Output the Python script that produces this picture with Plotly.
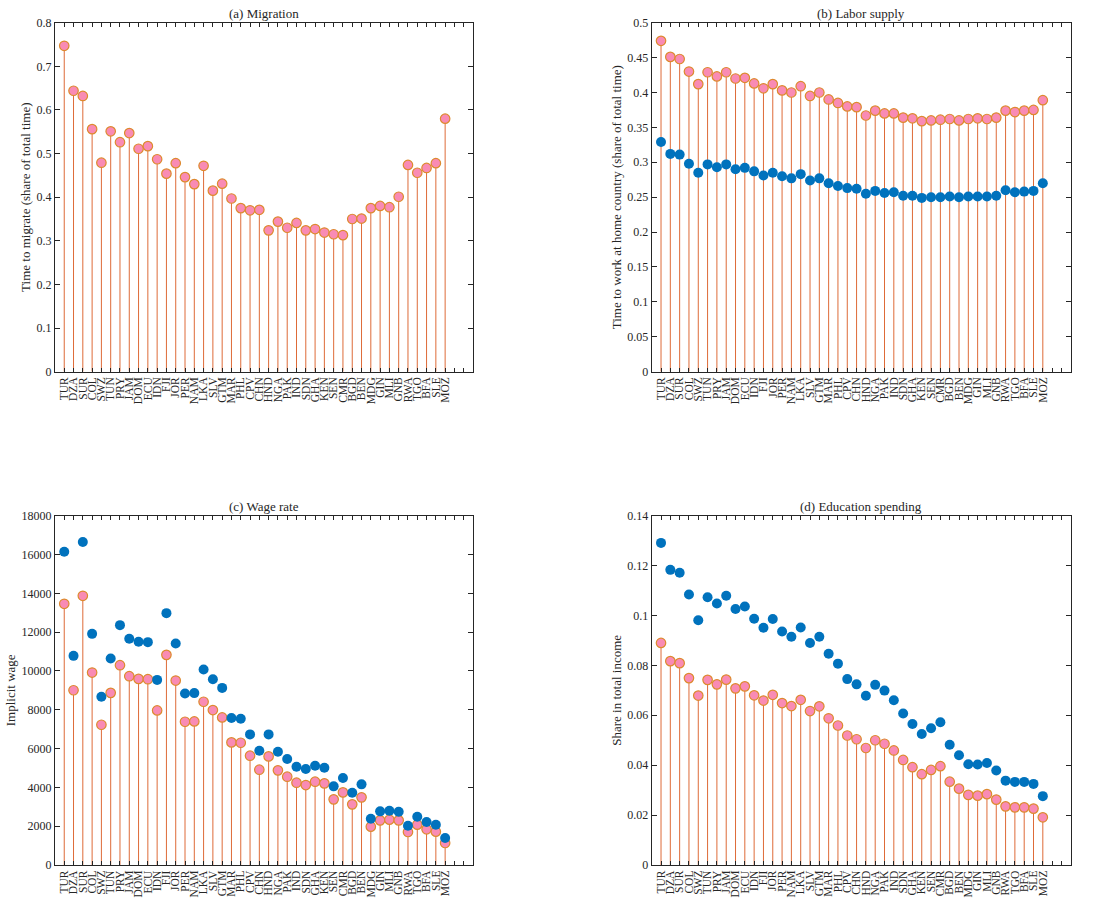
import plotly.graph_objects as go

# Country codes along the x axis (same order in every panel)
countries = ["TUR", "DZA", "SUR", "COL", "SWZ", "TUN", "PRY", "JAM", "DOM", "ECU",
             "IDN", "FJI", "JOR", "PER", "NAM", "LKA", "SLV", "GTM", "MAR", "PHL",
             "CPV", "CHN", "HND", "NGA", "PAK", "IND", "SDN", "GHA", "KEN", "SEN",
             "CMR", "BGD", "BEN", "MDG", "GIN", "MLI", "GNB", "RWA", "TGO", "BFA",
             "SLE", "MOZ"]

# (a) Migration: time to migrate
migration = [0.747, 0.644, 0.632, 0.556, 0.479, 0.551, 0.526, 0.547, 0.511, 0.517,
             0.487, 0.454, 0.478, 0.446, 0.430, 0.472, 0.415, 0.431, 0.397, 0.375,
             0.370, 0.371, 0.324, 0.344, 0.330, 0.341, 0.324, 0.327, 0.319, 0.315,
             0.313, 0.350, 0.351, 0.375, 0.380, 0.377, 0.401, 0.474, 0.456, 0.467,
             0.478, 0.580]

# (b) Labor supply: time to work at home country
labor_stem = [0.474, 0.451, 0.448, 0.430, 0.412, 0.429, 0.423, 0.429, 0.420, 0.421,
              0.413, 0.406, 0.412, 0.403, 0.400, 0.409, 0.395, 0.400, 0.390, 0.385,
              0.380, 0.379, 0.367, 0.374, 0.370, 0.370, 0.364, 0.363, 0.359, 0.360,
              0.361, 0.362, 0.360, 0.362, 0.363, 0.362, 0.364, 0.374, 0.372, 0.374,
              0.375, 0.389]
labor_dot = [0.329, 0.312, 0.311, 0.298, 0.285, 0.297, 0.293, 0.297, 0.290, 0.292,
             0.287, 0.281, 0.285, 0.280, 0.277, 0.283, 0.274, 0.277, 0.270, 0.266,
             0.263, 0.262, 0.255, 0.259, 0.256, 0.257, 0.252, 0.252, 0.249, 0.250,
             0.250, 0.251, 0.250, 0.251, 0.251, 0.251, 0.252, 0.260, 0.257, 0.258,
             0.259, 0.270]

# (c) Wage rate: implicit wage
wage_stem = [13460, 9006, 13873, 9917, 7227, 8870, 10296, 9728, 9590, 9574,
             7966, 10829, 9505, 7382, 7399, 8412, 7983, 7605, 6318, 6300,
             5631, 4910, 5597, 4876, 4549, 4240, 4120, 4292, 4206, 3382,
             3742, 3124, 3485, 1974, 2300, 2335, 2300, 1700, 2077, 1837,
             1717, 1133]
wage_dot = [16143, 10777, 16641, 11912, 8670, 10639, 12360, 11655, 11500, 11483,
            9539, 12979, 11414, 8841, 8858, 10072, 9574, 9127, 7571, 7536,
            6730, 5888, 6730, 5837, 5459, 5064, 4944, 5116, 5013, 4052,
            4481, 3725, 4155, 2386, 2764, 2798, 2747, 2026, 2489, 2215,
            2077, 1391]

# (d) Education spending: share in total income
edu_stem = [0.0890, 0.0817, 0.0809, 0.0749, 0.0679, 0.0742, 0.0724, 0.0743, 0.0708, 0.0716,
            0.0680, 0.0659, 0.0682, 0.0649, 0.0637, 0.0662, 0.0617, 0.0636, 0.0588, 0.0559,
            0.0519, 0.0504, 0.0469, 0.0500, 0.0486, 0.0459, 0.0421, 0.0392, 0.0364, 0.0381,
            0.0396, 0.0334, 0.0306, 0.0281, 0.0278, 0.0284, 0.0262, 0.0235, 0.0231, 0.0231,
            0.0226, 0.0191]
edu_dot = [0.1291, 0.1183, 0.1171, 0.1084, 0.0981, 0.1073, 0.1048, 0.1079, 0.1026, 0.1036,
           0.0987, 0.0951, 0.0986, 0.0936, 0.0915, 0.0952, 0.0890, 0.0915, 0.0847, 0.0807,
           0.0745, 0.0724, 0.0678, 0.0722, 0.0699, 0.0660, 0.0607, 0.0565, 0.0525, 0.0548,
           0.0572, 0.0482, 0.0440, 0.0404, 0.0403, 0.0409, 0.0379, 0.0338, 0.0333, 0.0333,
           0.0325, 0.0276]

STEM = "#DE6B38"
PINK = "#F98BB4"
PINK_EDGE = "#DD8A2E"
BLUE = "#0072BD"
INK = "#262626"
FONT = "Times New Roman, Liberation Serif, serif"

xpos = list(range(1, len(countries) + 1))

panels = [
    dict(title="(a) Migration", ytitle="Time to migrate (share of total time)",
         stem=migration, dot=None, yrange=[0, 0.8], dtick=0.1, fmt=None),
    dict(title="(b) Labor supply", ytitle="Time to work at home country (share of total time)",
         stem=labor_stem, dot=labor_dot, yrange=[0, 0.5], dtick=0.05, fmt=None),
    dict(title="(c) Wage rate", ytitle="Implicit wage",
         stem=wage_stem, dot=wage_dot, yrange=[0, 18000], dtick=2000, fmt="d"),
    dict(title="(d) Education spending", ytitle="Share in total income",
         stem=edu_stem, dot=edu_dot, yrange=[0, 0.14], dtick=0.02, fmt=None),
]

xdomains = [[0.050, 0.4304], [0.593, 0.9743], [0.050, 0.4304], [0.593, 0.9743]]
ydomains = [[0.587, 0.9748], [0.587, 0.9748], [0.0389, 0.4270], [0.0389, 0.4270]]

fig = go.Figure()
layout = dict(
    template="none",
    width=1099, height=900,
    margin=dict(l=0, r=0, t=0, b=0, pad=0),
    paper_bgcolor="white", plot_bgcolor="white",
    showlegend=False,
    font=dict(family=FONT, size=13, color=INK),
    annotations=[],
)

# x tick positions span the full box; only the country slots get labels
xtickvals = list(range(0, 46))
xticktext = [""] + countries + [""] * (45 - len(countries))

for i, p in enumerate(panels):
    n = i + 1
    xa = "x" if n == 1 else f"x{n}"
    ya = "y" if n == 1 else f"y{n}"

    # stems from zero up to each value
    sx, sy = [], []
    for xv, yv in zip(xpos, p["stem"]):
        sx += [xv, xv, None]
        sy += [0, yv, None]
    fig.add_trace(go.Scatter(x=sx, y=sy, mode="lines", xaxis=xa, yaxis=ya,
                             line=dict(color=STEM, width=1), hoverinfo="skip"))
    fig.add_trace(go.Scatter(x=xpos, y=p["stem"], mode="markers", xaxis=xa, yaxis=ya,
                             marker=dict(size=9.5, color=PINK,
                                         line=dict(color=PINK_EDGE, width=1.2))))
    if p["dot"] is not None:
        fig.add_trace(go.Scatter(x=xpos, y=p["dot"], mode="markers", xaxis=xa, yaxis=ya,
                                 marker=dict(size=10, color=BLUE, line=dict(width=0))))

    layout[f"xaxis{'' if n == 1 else n}"] = dict(
        domain=xdomains[i], anchor=ya, range=[0, 45], automargin=False,
        tickmode="array", tickvals=xtickvals, ticktext=xticktext,
        tickangle=-90, ticks="inside", ticklen=4, tickwidth=1, tickcolor=INK,
        showline=True, linecolor=INK, linewidth=1, mirror="ticks",
        showgrid=False, zeroline=False, tickfont=dict(family=FONT, size=11.5, color=INK),
    )
    yax = dict(
        domain=ydomains[i], anchor=xa, range=p["yrange"], dtick=p["dtick"], tick0=0,
        automargin=False,
        ticks="inside", ticklen=5, tickwidth=1, tickcolor=INK,
        showline=True, linecolor=INK, linewidth=1, mirror="ticks",
        showgrid=False, zeroline=False, tickfont=dict(family=FONT, size=12, color=INK),
        title=dict(text=p["ytitle"], font=dict(family=FONT, size=13, color=INK), standoff=2),
    )
    if p["fmt"]:
        yax["tickformat"] = p["fmt"]
    layout[f"yaxis{'' if n == 1 else n}"] = yax

    layout["annotations"].append(dict(
        text=p["title"], xref="paper", yref="paper",
        x=sum(xdomains[i]) / 2, y=ydomains[i][1], yshift=0,
        xanchor="center", yanchor="bottom", showarrow=False,
        font=dict(family=FONT, size=13, color=INK),
    ))

fig.update_layout(**layout)
fig.write_html("out.html")
